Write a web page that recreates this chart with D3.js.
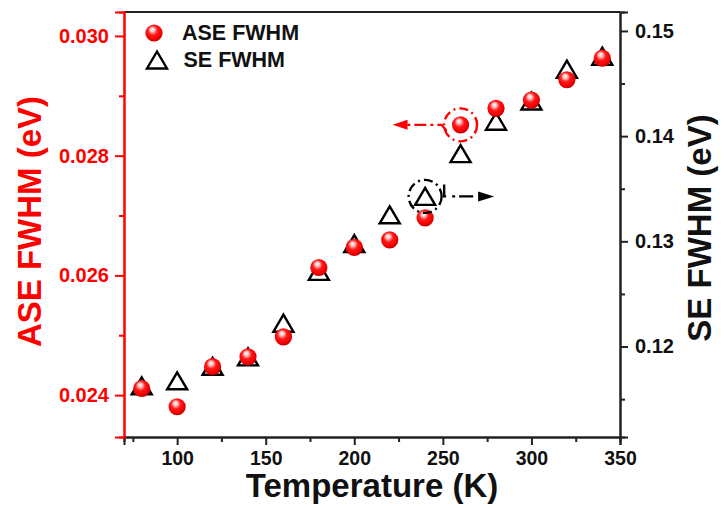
<!DOCTYPE html>
<html>
<head>
<meta charset="utf-8">
<script src="https://cdn.jsdelivr.net/npm/d3@7"></script>
<style>
  html, body { margin: 0; padding: 0; background: #ffffff; }
  svg { display: block; }
  text { font-family: "Liberation Sans", Arial, sans-serif; font-weight: bold; }
</style>
</head>
<body>
<svg id="chart" width="725" height="508"></svg>
<script>
// Temperature points (K)
const temperature = [80, 100, 120, 140, 160, 180, 200, 220, 240, 260, 280, 300, 320, 340];
// ASE FWHM (eV), left axis
const aseFwhm = [0.02411, 0.023805, 0.024475, 0.024638, 0.024972, 0.026132, 0.026468, 0.026593, 0.026962,
                 0.028515, 0.02879, 0.028928, 0.029268, 0.029628];
// SE FWHM (eV), right axis
const seFwhm = [0.11627, 0.11674, 0.11812, 0.11902, 0.12222, 0.12714, 0.12978, 0.13252, 0.13427,
                0.13834, 0.14142, 0.14334, 0.14636, 0.14760];

// Tick values
const xMajor = [100, 150, 200, 250, 300, 350];
const xMinor = [75, 125, 175, 225, 275, 325];
const yLeftMajor = [0.024, 0.026, 0.028, 0.030];
const yLeftMinor = [0.025, 0.027, 0.029];
const yRightMajor = [0.12, 0.13, 0.14, 0.15];
const yRightMinor = [0.115, 0.125, 0.135, 0.145];

const RED = "#ff0000";
const INK = "#111111";

const svg = d3.select("#chart");
const plot = { left: 124, right: 620, top: 12, bottom: 437 };

const x = d3.scaleLinear().domain([70, 350]).range([plot.left, plot.right]);
const yL = d3.scaleLinear().domain([0.0233, 0.0304]).range([plot.bottom, plot.top]);
const yR = d3.scaleLinear().domain([0.1114, 0.1518]).range([plot.bottom, plot.top]);

// Glossy ball gradient
const defs = svg.append("defs");
const grad = defs.append("radialGradient").attr("id", "ball")
  .attr("cx", "45%").attr("cy", "42%").attr("r", "58%")
  .attr("fx", "40%").attr("fy", "28%");
grad.append("stop").attr("offset", "0%").attr("stop-color", "#ffffff");
grad.append("stop").attr("offset", "22%").attr("stop-color", "#ffc0c0");
grad.append("stop").attr("offset", "48%").attr("stop-color", "#ff1a1a");
grad.append("stop").attr("offset", "85%").attr("stop-color", "#f00000");
grad.append("stop").attr("offset", "100%").attr("stop-color", "#c00000");

// Top frame line
svg.append("line")
  .attr("x1", plot.left).attr("x2", plot.right)
  .attr("y1", plot.top).attr("y2", plot.top)
  .attr("stroke", "#222").attr("stroke-width", 2);

function styleAxis(g, color, fontSize) {
  g.select(".domain").attr("stroke", color).attr("stroke-width", 2);
  g.selectAll(".tick line").attr("stroke", color).attr("stroke-width", 2);
  g.selectAll(".tick text").attr("fill", color)
    .style("font-size", fontSize + "px").style("font-family", "'Liberation Sans', Arial, sans-serif")
    .style("font-weight", "bold");
}

// Bottom axis
const gxMinor = svg.append("g").attr("transform", `translate(0,${plot.bottom})`)
  .call(d3.axisBottom(x).tickValues(xMinor).tickSize(5).tickFormat(""));
styleAxis(gxMinor, "#222", 19);
const gx = svg.append("g").attr("transform", `translate(0,${plot.bottom})`)
  .call(d3.axisBottom(x).tickValues(xMajor).tickSize(8).tickPadding(6).tickFormat(d3.format("d")));
styleAxis(gx, "#222", 19.5);
gx.selectAll(".tick text").attr("fill", INK);

// Left axis (ASE)
const gyLMinor = svg.append("g").attr("transform", `translate(${plot.left},0)`)
  .call(d3.axisLeft(yL).tickValues(yLeftMinor).tickSize(5).tickFormat(""));
styleAxis(gyLMinor, RED, 20);
const gyL = svg.append("g").attr("transform", `translate(${plot.left},0)`)
  .call(d3.axisLeft(yL).tickValues(yLeftMajor).tickSize(9).tickPadding(6).tickFormat(d3.format(".3f")));
styleAxis(gyL, RED, 20);

// Right axis (SE)
const gyRMinor = svg.append("g").attr("transform", `translate(${plot.right},0)`)
  .call(d3.axisRight(yR).tickValues(yRightMinor).tickSize(5).tickFormat(""));
styleAxis(gyRMinor, "#222", 20);
const gyR = svg.append("g").attr("transform", `translate(${plot.right},0)`)
  .call(d3.axisRight(yR).tickValues(yRightMajor).tickSize(8).tickPadding(7).tickFormat(d3.format(".2f")));
styleAxis(gyR, "#222", 20);
gyR.selectAll(".tick text").attr("fill", INK);

// Axis titles
svg.append("text")
  .attr("x", (plot.left + plot.right) / 2).attr("y", 497)
  .attr("text-anchor", "middle").attr("fill", INK)
  .style("font-size", "33px")
  .text("Temperature (K)");

svg.append("text")
  .attr("transform", `translate(41,221.5) rotate(-90)`)
  .attr("text-anchor", "middle").attr("fill", RED)
  .style("font-size", "33px")
  .text("ASE FWHM (eV)");

svg.append("text")
  .attr("transform", `translate(711,228) rotate(-90)`)
  .attr("text-anchor", "middle").attr("fill", INK)
  .style("font-size", "33px")
  .text("SE FWHM (eV)");

// Open triangle symbol (bounding box centred on the point)
const triPath = "M0,-8.5L10,8.5L-10,8.5Z";

const seData = temperature.map((t, i) => ({ t, v: seFwhm[i] }));
const aseData = temperature.map((t, i) => ({ t, v: aseFwhm[i] }));

svg.append("g").selectAll("path").data(seData).join("path")
  .attr("d", triPath)
  .attr("transform", d => `translate(${x(d.t)},${yR(d.v)})`)
  .attr("fill", "none").attr("stroke", "#000").attr("stroke-width", 2.4)
  .attr("stroke-linejoin", "miter");

svg.append("g").selectAll("circle").data(aseData).join("circle")
  .attr("cx", d => x(d.t)).attr("cy", d => yL(d.v)).attr("r", 8.6)
  .attr("fill", "url(#ball)");

// Call-outs: ASE point at 260 K points to left axis, SE point at 240 K to right axis
const dash = "9,4,2,4";
const aseT = 260, seT = 240;
const ax = x(aseT), ay = yL(aseFwhm[temperature.indexOf(aseT)]);
svg.append("circle").attr("cx", ax).attr("cy", ay).attr("r", 16.5)
  .attr("fill", "none").attr("stroke", RED).attr("stroke-width", 2.4)
  .attr("stroke-dasharray", dash);
svg.append("path")
  .attr("d", `M${ax - 14},${ay + 6}L${ax - 19},${ay}L${ax - 54},${ay}`)
  .attr("fill", "none").attr("stroke", RED).attr("stroke-width", 2.4)
  .attr("stroke-dasharray", "12,4,3,4");
svg.append("path")
  .attr("d", `M${ax - 68},${ay}L${ax - 53},${ay - 5}L${ax - 53},${ay + 5}Z`)
  .attr("fill", RED);

const sx = x(seT), sy = yR(seFwhm[temperature.indexOf(seT)]);
svg.append("circle").attr("cx", sx).attr("cy", sy).attr("r", 16.5)
  .attr("fill", "none").attr("stroke", "#000").attr("stroke-width", 2.4)
  .attr("stroke-dasharray", dash);
svg.append("path")
  .attr("d", `M${sx + 19},${sy - 12}L${sx + 19},${sy}L${sx + 53},${sy}`)
  .attr("fill", "none").attr("stroke", "#000").attr("stroke-width", 2.4)
  .attr("stroke-dasharray", "14,6,3,4");
svg.append("path")
  .attr("d", `M${sx + 69},${sy}L${sx + 53},${sy - 5}L${sx + 53},${sy + 5}Z`)
  .attr("fill", "#000");

// Legend
const legend = svg.append("g");
legend.append("circle").attr("cx", 154).attr("cy", 33).attr("r", 8.6).attr("fill", "url(#ball)");
legend.append("text").attr("x", 182).attr("y", 40).attr("fill", INK)
  .style("font-size", "21.5px").text("ASE FWHM");
legend.append("path").attr("d", triPath)
  .attr("transform", "translate(157,60)")
  .attr("fill", "none").attr("stroke", "#000").attr("stroke-width", 2.4);
legend.append("text").attr("x", 183.5).attr("y", 67).attr("fill", INK)
  .style("font-size", "21.5px").text("SE FWHM");
</script>
</body>
</html>
